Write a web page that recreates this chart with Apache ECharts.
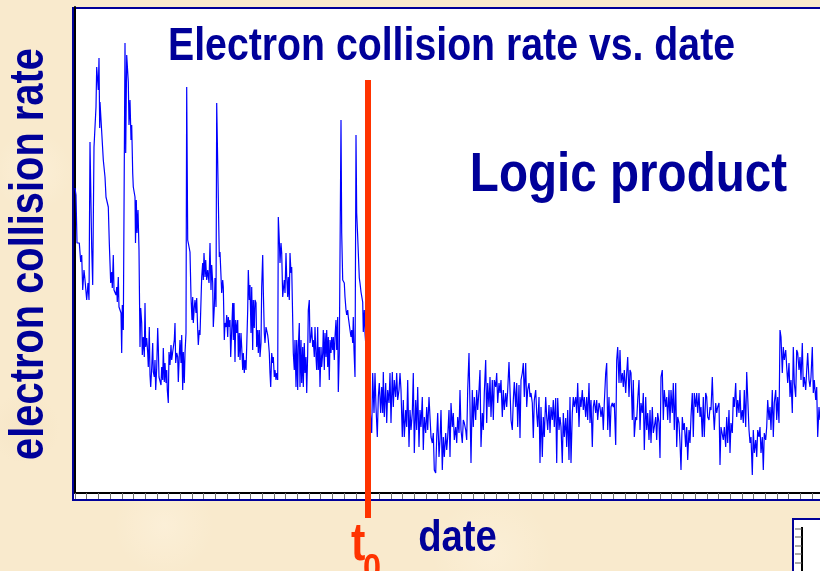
<!DOCTYPE html>
<html>
<head>
<meta charset="utf-8">
<script src="https://cdn.jsdelivr.net/npm/echarts/dist/echarts.min.js"></script>
<style>
html,body{margin:0;padding:0;}
body{width:820px;height:571px;overflow:hidden;
background:
 radial-gradient(circle at 20% 92%, rgba(255,248,234,0.35) 0, rgba(255,248,234,0) 50px),
 radial-gradient(circle at 60% 97%, rgba(255,248,232,0.35) 0, rgba(255,248,232,0) 60px),
 radial-gradient(circle at 4% 30%, rgba(255,248,232,0.35) 0, rgba(255,248,232,0) 40px),
 radial-gradient(circle at 3% 75%, rgba(240,220,185,0.3) 0, rgba(240,220,185,0) 35px),
 #f9eacd;}
#c{width:820px;height:571px;}
</style>
</head>
<body>
<div id="c"></div>
<script>
// ---- data (day index, electron collision rate) ----
const days = [
0,1,2,3.3,4.3,5.7,6.7,7.7,9,10,
11.7,13,14,15,16.7,17.7,19,21,21.7,22.7,
23.3,24,24.7,25,26.7,28.3,30,31,33.3,34.3,
35,35.7,36.7,37.3,38.3,39,40,41,41.7,42.3,
43.3,44,45,46,46.7,47.3,48.3,50,50.7,51.7,
52.7,53.3,54,55,56,56.7,57.7,58.3,60,60.5,
61.3,62,63,64,65,65.7,66.7,67.3,68.3,69.3,
70,70.7,71.7,72.7,73.3,74.3,75,75.7,76.7,77.7,
78.3,79.3,80,80.7,81.7,82.7,83.3,84,85,86,
86.7,87.7,88.3,89.3,90,91,91.7,92.3,93.3,94,
95,96,96.7,97.7,98.3,99.3,100,100.7,101.7,102.7,
103.3,104.3,105,106,106.7,107.7,108.3,109.3,110,111,
111.7,112.7,113.3,115,116,117,117.7,118.3,119.3,120,
121,121.7,122.7,123.3,124.3,125,126.7,127.7,128.3,129,
130,130.7,131.7,132.7,134,135,136,136.7,137.7,138.3,
139.3,140,141,141.7,144.3,145,146,146.7,147.7,148.3,
149.3,150,151,151.7,152.7,153.3,154.3,155,155.7,156.7,
157.7,158.3,159,160,160.7,161.7,162.7,163.3,164.3,165,
166,166.7,167.7,168.3,169.3,170,171,171.7,172.7,173.3,
174.3,175,176,176.7,177.7,178.3,179.3,180,181,181.7,
182.7,183.3,184.3,185,186,186.7,187.7,188.3,189.3,190,
191,191.7,192.7,193.3,194.3,195,195.7,196.7,197.7,198.3,
199.3,200,201,201.7,202.7,203.3,204.3,205,206,206.7,
207.7,208.3,209.3,210,211,211.7,212.7,213.3,214.3,215,
216,216.7,217.7,218.3,219.3,220,221,221.7,222.7,223.3,
224.3,225,226,226.7,227.7,228.3,229.3,230,231,231.7,
232.7,233.3,234.3,235,236,236.7,237.7,238.3,239.3,240,
241,241.7,242.7,243.3,244.3,245,246,246.7,247.7,248.3,
249.3,250,251,251.7,252.7,253.3,254.3,255,256,256.7,
257.7,258.3,259.3,260,261,261.7,262.7,263.3,264.3,266,
266.7,267.7,268.3,269.3,270,271,271.7,272.7,273.3,274.3,
275,276,276.7,277.7,278.3,279,280,281,281.7,282.7,
284.3,285,286,286.7,287.7,288.3,289.3,290,
296.7,297.7,299,300,301,302.3,303.3,304.3,305.7,306.7,
307.7,308.3,309.3,310.7,311.7,312.7,314,315,316,317.3,
318.3,319.3,320.7,321.7,322.7,324,325,326,327.3,328.3,
329.3,330.7,331.7,332.7,334,335,336,337.3,338.3,339.3,
340.7,341.7,342.7,344,345,346,347.3,348.3,349.3,350.7,
351.7,352.7,354,355,356,357.3,358.3,359.3,360.7,361.7,
362.7,364,365,366,367.3,368.3,369.3,370.7,371.7,372.7,
374,375,376,377.3,378.3,379.3,380.7,381.7,382.7,384,
385,386,387.3,388.3,389.3,390.7,391.7,392.7,394,395,
396,397.3,398.3,399.3,400.7,401.7,402.7,404,405,406,
407.3,408.3,409.3,410.7,411.7,412.7,414,415,416,417.3,
418.3,419.3,420.7,421.7,422.7,424,425,426,427.3,428.3,
429.3,430.7,431.7,432.7,434,435,436,437.3,438.3,439.3,
440.7,441.7,442.7,444,445,446,447.3,448.3,449.3,450.7,
451.7,452.7,454,455,456,457.3,458.3,459.3,460.7,461.7,
462.7,464,465,466,467.3,468.3,469.3,470.7,471.7,472.7,
474,475,476,477.3,478.3,479.3,480.7,481.7,482.7,484,
485,486,487.3,488.3,489.3,490.7,491.7,492.7,494,495,
496,497.3,498.3,499.3,500.7,501.7,502.7,504,505,506,
507.3,508.3,509.3,510.7,511.7,512.7,514,515,516,517.3,
518.3,519.3,520.7,521.7,522.7,524,525,526,527.3,528.3,
529.3,530.7,531.7,532.7,534,535,536,537.3,538.3,539.3,
540.7,541.7,542.7,544,545,546,547.3,548.3,549.3,550.7,
551.7,552.7,554,555,556,557.3,558.3,559.3,560.7,561.7,
562.7,564,565,566,567.3,568.3,569.3,570.7,571.7,572.7,
574,575,576,577.3,578.3,579.3,580.7,581.7,582.7,584,
585,586,587.3,588.3,589.3,590.7,591.7,592.7,594,595,
596,597.3,598.3,599.3,600.7,601.7,602.7,604,605,606,
607.3,608.3,609.3,610.7,611.7,612.7,614,615,616,617.3,
618.3,619.3,620.7,621.7,622.7,624,625,626,627.3,628.3,
629.3,630.7,631.7,632.7,634,635,636,637.3,638.3,639.3,
640.7,641.7,642.7,644,645,646,647.3,648.3,649.3,650.7,
651.7,652.7,654,655,656,657.3,658.3,659.3,660.7,661.7,
662.7,664,665,666,667.3,668.3,669.3,670.7,671.7,672.7,
674,675,676,677.3,678.3,679.3,680.7,681.7,682.7,684,
685,686,687.3,688.3,689.3,690.7,691.7,692.7,694,695,
696,697.3,698.3,699.3,700.7,701.7,702.7,704,705,706,
707.3,708.3,709.3,710.7,711.7,712.7,714,715,716,717.3,
718.3,719.3,720.7,721.7,722.7,724,725,726,727.3,728.3,
729.3,730.7,731.7,732.7,734,735,736,737.3,738.3,739.3,
740.7,741.7,742.7,744,745
];
const rates = [
305,298,250,248,250,231,238,203,223,213,
193,210,193,351,245,208,346,386,426,426,
403,435,365,391,391,333,316,296,286,250,
248,210,221,205,238,203,205,198,206,191,
216,186,183,180,140,188,163,450,340,438,
438,411,368,393,353,368,320,306,296,250,
293,260,283,243,146,185,170,138,156,136,
190,146,155,140,126,166,118,106,125,150,
121,116,133,103,125,165,146,116,115,108,
126,113,145,111,130,110,123,103,90,141,
128,148,133,141,143,153,170,130,140,136,
111,138,153,130,158,103,141,110,140,160,
406,253,250,241,196,173,196,170,186,193,
180,195,163,148,163,158,216,230,213,240,
216,233,213,223,210,250,203,228,210,166,
186,215,186,390,236,241,241,200,213,206,
153,170,166,178,156,176,166,173,136,163,
190,153,190,131,173,160,173,136,160,133,
160,146,123,140,120,133,123,146,183,223,
193,208,160,206,143,193,165,193,190,146,
163,140,163,136,150,206,238,203,160,150,
166,165,158,153,140,120,106,140,130,136,
116,123,113,120,113,276,253,230,250,240,
196,203,213,200,240,216,196,216,193,240,
220,226,173,140,123,153,106,153,103,146,
170,106,153,110,146,106,150,120,136,100,
140,183,193,150,156,166,146,153,136,166,
136,123,166,123,146,106,146,126,140,163,
123,160,136,163,126,156,113,153,140,156,
143,156,133,156,173,143,176,101,140,373,
260,213,213,210,196,183,178,183,176,178,
163,156,163,150,176,143,116,358,280,256,
215,210,201,203,191,161,183,160,
60,120,80,120,86,56,96,110,80,106,
80,121,76,110,70,103,90,120,70,121,
86,113,96,120,93,103,120,103,56,93,
56,83,66,113,46,83,63,80,120,40,
93,63,106,46,83,66,96,43,76,60,
86,63,96,96,56,50,60,23,20,56,
80,36,53,83,23,56,36,60,43,56,
83,36,90,66,80,53,66,50,76,60,
103,63,50,73,70,63,53,103,140,86,
30,103,66,96,73,103,83,103,123,46,
80,63,100,133,70,110,86,116,76,113,
73,113,106,120,90,110,100,113,76,103,
83,100,86,103,131,103,73,63,93,111,
86,110,66,108,55,113,120,130,96,130,
86,103,110,96,100,90,55,93,103,80,
66,96,30,86,36,76,56,96,76,63,
88,60,86,73,93,66,95,30,95,63,
76,66,30,80,56,75,46,83,33,96,
30,80,96,86,96,80,110,66,96,86,
103,83,96,76,96,73,110,70,93,46,
86,93,80,93,73,90,86,76,86,63,
90,120,130,63,96,56,86,90,86,90,
48,133,146,110,143,110,120,106,123,100,
120,136,96,123,120,73,113,56,76,73,
93,113,63,90,80,100,43,96,63,80,
53,83,50,86,60,66,76,53,80,70,
35,116,123,73,103,86,96,73,103,70,
103,80,110,63,110,46,76,70,50,23,
76,63,70,46,66,33,63,50,76,100,
56,100,86,100,80,100,76,86,56,96,
56,100,96,76,73,86,83,116,83,63,
90,80,86,90,28,66,66,53,66,46,
76,50,83,40,70,60,96,86,110,76,
93,80,103,73,83,70,103,66,121,96,
63,50,56,18,63,40,53,36,63,56,
66,40,56,23,60,53,66,93,73,86,
63,103,56,90,103,73,96,70,163,156,
120,146,133,143,126,110,130,96,113,80,
146,110,96,143,140,123,136,113,150,106,
116,103,123,140,113,106,116,146,100,113,
93,106,56,86,73
];
const t0Day = 293;            // event date marked by the red line
const dayRange = [0, 745];
const rateRange = [0, 486];
const tickStep = 11.7;
const titleText = 'Electron collision rate vs. date';
const noteText = 'Logic product';
const yName = 'electron collision rate';
const xName = 'date';

if (days.length !== rates.length) throw new Error('length mismatch ' + days.length + ' vs ' + rates.length);

const NAVY = '#000099';
const RED = '#ff3300';
const FONT = '"Liberation Sans", Arial, sans-serif';

const chart = echarts.init(document.getElementById('c'), null, {renderer: 'canvas'});
chart.setOption({
  animation: false,
  backgroundColor: 'transparent',
  grid: {left: 75, right: 0, top: 7, bottom: 78, containLabel: false},
  xAxis: {
    type: 'value', min: dayRange[0], max: dayRange[1], interval: tickStep,
    axisLine: {show: true, onZero: false, lineStyle: {color: '#000', width: 2}},
    axisTick: {show: true, inside: false, length: 6, lineStyle: {color: '#707070', width: 1}},
    axisLabel: {show: false},
    splitLine: {show: false}
  },
  yAxis: {
    type: 'value', min: rateRange[0], max: rateRange[1],
    axisLine: {show: true, onZero: false, lineStyle: {color: '#000', width: 2}},
    axisTick: {show: false},
    axisLabel: {show: false},
    splitLine: {show: false}
  },
  series: [{
    type: 'line',
    data: days.map((d, i) => [d, rates[i]]),
    showSymbol: false,
    symbol: 'none',
    lineStyle: {color: '#0000ff', width: 1.2},
    z: 3
  }]
});

const px = chart.convertToPixel({xAxisIndex: 0}, t0Day);
const yTop = chart.convertToPixel({yAxisIndex: 0}, 413);
const yBot = chart.convertToPixel({yAxisIndex: 0}, -25);

chart.setOption({
  graphic: [
    // white plot panel with navy frame
    {type: 'rect', z: -5, silent: true,
     shape: {x: 73, y: 8, width: 800, height: 492},
     style: {fill: '#ffffff', stroke: NAVY, lineWidth: 2}},
    // t0 marker
    {type: 'rect', z: 20, silent: true,
     shape: {x: px - 3, y: yTop, width: 6, height: yBot - yTop},
     style: {fill: RED}},
    // title
    {type: 'text', z: 30, x: 451.5, y: 47, scaleX: 0.835, silent: true,
     style: {text: titleText, font: 'bold 47px ' + FONT, fill: NAVY, align: 'center', verticalAlign: 'middle'}},
    // annotation
    {type: 'text', z: 30, x: 628.5, y: 176, scaleX: 0.85, silent: true,
     style: {text: noteText, font: 'bold 56px ' + FONT, fill: NAVY, align: 'center', verticalAlign: 'middle'}},
    // y axis name
    {type: 'text', z: 30, x: 30, y: 254, rotation: Math.PI / 2, scaleX: 0.83, silent: true,
     style: {text: yName, font: 'bold 48px ' + FONT, fill: NAVY, align: 'center', verticalAlign: 'middle'}},
    // x axis name
    {type: 'text', z: 30, x: 457.5, y: 539, scaleX: 0.85, silent: true,
     style: {text: xName, font: 'bold 45px ' + FONT, fill: NAVY, align: 'center', verticalAlign: 'middle'}},
    // t0 label
    {type: 'text', z: 30, x: px - 17, y: 545, scaleX: 0.8, silent: true,
     style: {text: 't', font: 'bold 54px ' + FONT, fill: RED, align: 'left', verticalAlign: 'middle'}},
    {type: 'text', z: 30, x: px - 5, y: 570, scaleX: 0.9, silent: true,
     style: {text: '0', font: 'bold 36px ' + FONT, fill: RED, align: 'left', verticalAlign: 'middle'}},
    // partial neighbouring panel, bottom right
    {type: 'rect', z: -5, silent: true,
     shape: {x: 793, y: 519, width: 60, height: 80},
     style: {fill: '#ffffff', stroke: NAVY, lineWidth: 2}},
    {type: 'line', z: 1, silent: true,
     shape: {x1: 802, y1: 527, x2: 802, y2: 571},
     style: {stroke: '#000', lineWidth: 2}},
    {type: 'group', silent: true, children: [529, 537, 546, 554, 563].map(y => ({
      type: 'line', z: 1, shape: {x1: 795, y1: y, x2: 802, y2: y},
      style: {stroke: '#555', lineWidth: 1}
    }))}
  ]
});
</script>
</body>
</html>
